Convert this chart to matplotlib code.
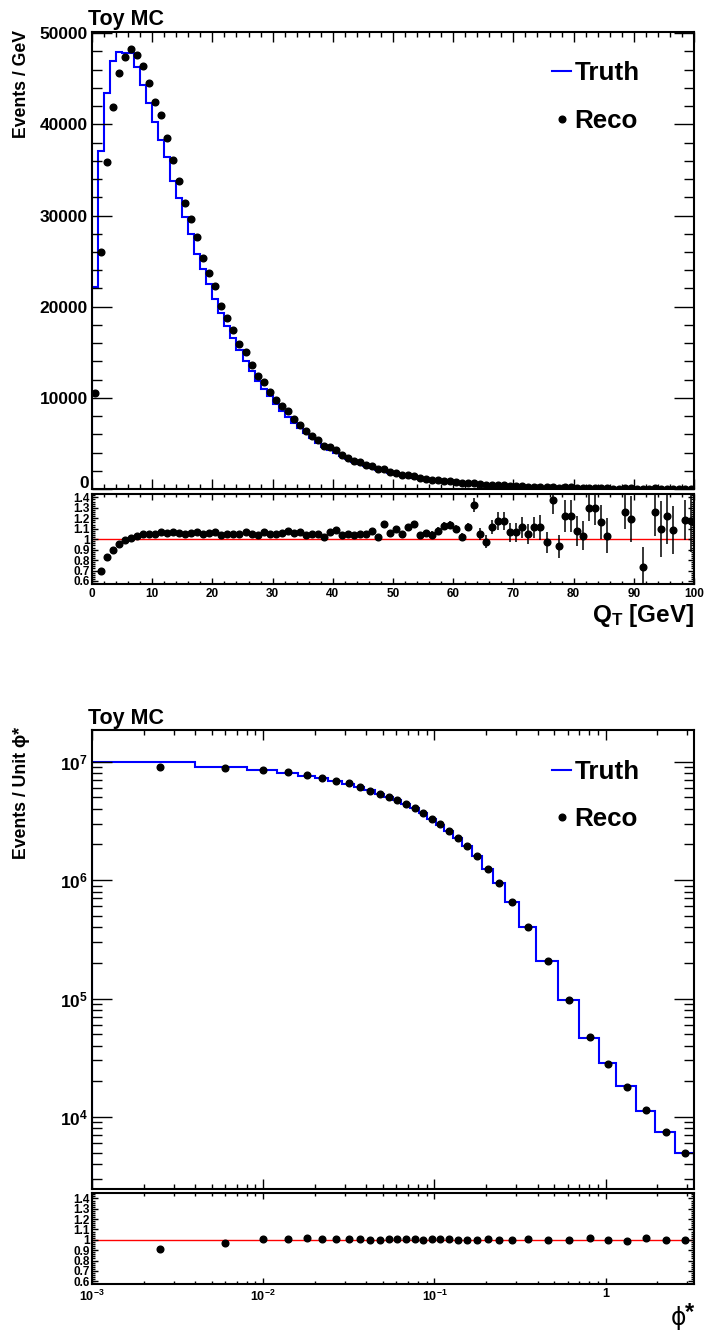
import numpy as np
import matplotlib
matplotlib.use('Agg')
import matplotlib.pyplot as plt
from matplotlib.ticker import MultipleLocator, FixedLocator, FixedFormatter, NullFormatter, FuncFormatter
from matplotlib.lines import Line2D

plt.rcParams['font.family'] = ['Liberation Sans', 'DejaVu Sans']
plt.rcParams['font.weight'] = 'bold'
plt.rcParams['mathtext.fontset'] = 'custom'
plt.rcParams['mathtext.rm'] = 'Liberation Sans:bold'
plt.rcParams['mathtext.bf'] = 'Liberation Sans:bold'
plt.rcParams['mathtext.it'] = 'Liberation Sans:bold'

# ---------------- data: Q_T ----------------
qt_edges = np.arange(0, 101, 1)
qt_truth = [22150, 37080, 43450, 46960, 47950, 47880, 47840, 46300, 44290, 42350,
            40270, 38250, 36420, 33790, 31960, 29840, 28010, 25800, 24100, 22450,
            20850, 19350, 17900, 16550, 15250, 14050, 12950, 11900, 11000, 10150,
            9350, 8600, 7900, 7250, 6650, 6100, 5550, 5100, 4650, 4250,
            3900, 3580, 3280, 3010, 2760, 2530, 2320, 2120, 1940, 1780,
            1630, 1490, 1360, 1250, 1140, 1045, 955, 875, 805, 740,
            680, 625, 575, 530, 488, 450, 415, 382, 352, 325,
            300, 277, 256, 236, 218, 201, 186, 172, 159, 147,
            136, 126, 116, 107, 99, 92, 85, 79, 73, 67,
            62, 57, 53, 49, 45, 42, 39, 36, 33, 31]
qt_ratio = [0.473, 0.70, 0.825, 0.892, 0.952, 0.99, 1.01, 1.029, 1.048, 1.051,
            1.054, 1.073, 1.057, 1.067, 1.057, 1.051, 1.057, 1.073, 1.051, 1.057,
            1.067, 1.038, 1.048, 1.051, 1.045, 1.067, 1.051, 1.038, 1.064, 1.048,
            1.048, 1.057, 1.080, 1.057, 1.064, 1.041, 1.054, 1.048, 1.019, 1.073,
            1.083, 1.035, 1.048, 1.035, 1.054, 1.054, 1.080, 1.016, 1.146, 1.057,
            1.096, 1.048, 1.115, 1.143, 1.038, 1.057, 1.038, 1.080, 1.127, 1.137,
            1.096, 1.022, 1.115, 1.325, 1.048, 0.975, 1.115, 1.169, 1.178, 1.067,
            1.067, 1.115, 1.051, 1.115, 1.115, 0.968, 1.376, 0.930, 1.223, 1.223,
            1.080, 1.032, 1.299, 1.299, 1.162, 1.032, 0.0, 0.0, 1.261, 1.194,
            0.0, 0.732, 0.0, 1.261, 1.096, 1.223, 1.089, 0.0, 1.185, 1.178]
qt_ratio_err = [0.003] * 30 + [0.006] * 10 + [0.01] * 6 + [0.02] * 5 + [0.025] * 5 + \
               [0.04] * 7 + [0.067, 0.057, 0.06, 0.064, 0.086, 0.086, 0.09, 0.09, 0.10, 0.095,
                             0.10, 0.12, 0.105, 0.14, 0.11, 0.15, 0.15, 0.146, 0.14, 0.127,
                             0.166, 0.16, 0.166, 0.0, 0.0, 0.166, 0.22, 0.0, 0.19, 0.0,
                             0.23, 0.27, 0.27, 0.23, 0.0, 0.19, 0.30]

# ---------------- data: phi* ----------------
phi_edges = [0.001, 0.004, 0.008, 0.012, 0.016, 0.020, 0.024, 0.029, 0.034, 0.039,
             0.045, 0.051, 0.057, 0.064, 0.072, 0.081, 0.091, 0.102, 0.114, 0.128,
             0.145, 0.165, 0.189, 0.219, 0.258, 0.312, 0.391, 0.524, 0.695, 0.918,
             1.153, 1.496, 1.947, 2.522, 3.277]
phi_truth = [9.95e6, 9.10e6, 8.50e6, 8.08e6, 7.55e6, 7.27e6, 6.89e6, 6.50e6, 6.11e6, 5.73e6,
             5.33e6, 5.03e6, 4.74e6, 4.37e6, 4.03e6, 3.67e6, 3.29e6, 2.95e6, 2.60e6, 2.28e6,
             1.93e6, 1.59e6, 1.24e6, 9.49e5, 6.54e5, 4.00e5, 2.06e5, 9.64e4, 4.66e4, 2.83e4,
             1.81e4, 1.12e4, 7.52e3, 4.98e3]
phi_ratio = [0.913, 0.968, 1.01, 1.01, 1.019, 1.01, 1.006, 1.01, 1.01, 0.994,
             1.003, 1.01, 1.01, 1.006, 1.006, 1.003, 1.006, 1.006, 1.006, 1.0,
             0.997, 1.0, 1.006, 0.994, 1.003, 1.01, 1.0, 1.0, 1.016, 0.997,
             0.984, 1.019, 0.994, 0.997]

legend_labels = ['Truth', 'Reco']

# ---------------- derived ----------------
qt_e = np.array(qt_edges, float)
qt_c = 0.5 * (qt_e[:-1] + qt_e[1:])
qt_t = np.array(qt_truth, float)
qt_r = np.array(qt_ratio, float)
qt_reco = qt_t * qt_r
ph_e = np.array(phi_edges, float)
ph_c = 0.5 * (ph_e[:-1] + ph_e[1:])
ph_t = np.array(phi_truth, float)
ph_r = np.array(phi_ratio, float)
ph_reco = ph_t * ph_r

W, H = 704, 1332
fig = plt.figure(figsize=(W / 100, H / 100), dpi=100)


def axes_px(l, t, r, b):
    return fig.add_axes([l / W, 1 - b / H, (r - l) / W, (b - t) / H])


BLUE = '#0000ff'
MS = 4.8
FW = 1.5


def frame(ax):
    for s in ax.spines.values():
        s.set_linewidth(FW)
        s.set_color('black')


def main_ticks(ax):
    ax.tick_params(axis='both', which='both', direction='in', top=True, right=True, width=1.0, color='black')
    ax.tick_params(axis='y', which='major', length=14.4, labelsize=12.5, pad=3)
    ax.tick_params(axis='y', which='minor', length=7.2)
    ax.tick_params(axis='x', which='major', length=7.2)
    ax.tick_params(axis='x', which='minor', length=3.6)


def ratio_ticks(ax, xlabsize=9):
    ax.tick_params(axis='both', which='both', direction='in', top=True, right=True, width=1.0, color='black')
    ax.tick_params(axis='y', which='major', length=4.3, labelsize=8.5, pad=1.5)
    ax.tick_params(axis='y', which='minor', length=2.0)
    ax.tick_params(axis='x', which='major', length=4.3, labelsize=xlabsize, pad=3)
    ax.tick_params(axis='x', which='minor', length=2.2)
    ax.yaxis.set_major_locator(MultipleLocator(0.1))
    ax.yaxis.set_minor_locator(MultipleLocator(0.02))
    ax.yaxis.set_major_formatter(FuncFormatter(lambda v, p: ('%g' % round(v, 2))))


def legend(ax, first_row_px, left_px):
    bb = ax.get_position()
    h = Line2D([0], [0], color=BLUE, lw=1.5)
    m = Line2D([0], [0], color='black', marker='o', ls='none', markersize=MS)
    ax.legend([h, m], legend_labels, loc='upper left',
              bbox_to_anchor=((left_px - 92) / 602, 1 - first_row_px / (bb.height * H)),
              frameon=False, fontsize=18.7, handlelength=0.75, handletextpad=0.12,
              labelspacing=0.9, borderpad=0, borderaxespad=0)


# ================= Q_T panel =================
ax1 = axes_px(92, 32.3, 694, 489)
ax1.stairs(qt_t, qt_e, baseline=0, color=BLUE, lw=1.5)
ax1.plot(qt_c, qt_reco, 'o', color='black', markersize=MS, zorder=3)
ax1.set_xlim(0, 100)
ax1.set_ylim(0, 50100)
ax1.xaxis.set_major_locator(MultipleLocator(10))
ax1.xaxis.set_minor_locator(MultipleLocator(2))
ax1.yaxis.set_major_locator(MultipleLocator(10000))
ax1.yaxis.set_minor_locator(MultipleLocator(2000))
# the "0" label is drawn separately, raised a little so it sits just above the ratio pad
ax1.yaxis.set_major_formatter(FuncFormatter(lambda v, p: '' if abs(v) < 1 else '%d' % v))
ax1.xaxis.set_major_formatter(NullFormatter())
main_ticks(ax1)
frame(ax1)
legend(ax1, 29, 552)
fig.text(88.5 / W, 1 - 487.5 / H, '0', fontsize=12.5, ha='right', va='baseline')

ax1r = axes_px(92, 494, 694, 584.3)
ax1r.axhline(1.0, color='red', lw=1.0, zorder=1)
ax1r.errorbar(qt_c, qt_r, yerr=qt_ratio_err, fmt='o', color='black', markersize=MS,
              elinewidth=1.1, capsize=0, zorder=3)
ax1r.set_xlim(0, 100)
ax1r.set_ylim(0.568, 1.432)
ax1r.xaxis.set_major_locator(MultipleLocator(10))
ax1r.xaxis.set_minor_locator(MultipleLocator(2))
ratio_ticks(ax1r, xlabsize=8.5)
frame(ax1r)

fig.text(88 / W, 1 - 25 / H, 'Toy MC', fontsize=15.5, ha='left', va='baseline')
fig.text(22 / W, 1 - 30 / H, 'Events / GeV', fontsize=12.7, rotation=90, ha='center', va='top')
fig.text(694 / W, 1 - 622 / H, r'Q$_{\mathrm{T}}$ [GeV]', fontsize=17.5, ha='right', va='baseline')

# ================= phi* panel =================
ax2 = axes_px(92, 730, 694, 1189)
ax2.set_xscale('log')
ax2.set_yscale('log')
ax2.stairs(ph_t, ph_e, baseline=1.0, color=BLUE, lw=1.5)
ax2.plot(ph_c, ph_reco, 'o', color='black', markersize=MS, zorder=3)
ax2.set_xlim(0.001, 3.277)
ax2.set_ylim(2466, 1.853e7)
ax2.yaxis.set_major_locator(FixedLocator([1e4, 1e5, 1e6, 1e7]))
ax2.yaxis.set_major_formatter(FixedFormatter([r'$\mathrm{10^{4}}$', r'$\mathrm{10^{5}}$',
                                              r'$\mathrm{10^{6}}$', r'$\mathrm{10^{7}}$']))
ax2.yaxis.set_minor_locator(matplotlib.ticker.LogLocator(base=10, subs=np.arange(2, 10), numticks=20))
ax2.yaxis.set_minor_formatter(NullFormatter())
ax2.xaxis.set_major_locator(FixedLocator([1e-3, 1e-2, 1e-1, 1]))
ax2.xaxis.set_minor_locator(matplotlib.ticker.LogLocator(base=10, subs=np.arange(2, 10), numticks=20))
ax2.xaxis.set_major_formatter(NullFormatter())
ax2.xaxis.set_minor_formatter(NullFormatter())
main_ticks(ax2)
frame(ax2)
legend(ax2, 30, 552)

ax2r = axes_px(92, 1193.3, 694, 1284.3)
ax2r.set_xscale('log')
ax2r.axhline(1.0, color='red', lw=1.0, zorder=1)
ax2r.plot(ph_c, ph_r, 'o', color='black', markersize=MS, zorder=3)
ax2r.set_xlim(0.001, 3.277)
ax2r.set_ylim(0.57, 1.45)
ax2r.xaxis.set_major_locator(FixedLocator([1e-3, 1e-2, 1e-1, 1]))
ax2r.xaxis.set_major_formatter(FixedFormatter([r'$\mathrm{10^{-3}}$', r'$\mathrm{10^{-2}}$',
                                               r'$\mathrm{10^{-1}}$', '1']))
ax2r.xaxis.set_minor_locator(matplotlib.ticker.LogLocator(base=10, subs=np.arange(2, 10), numticks=20))
ax2r.xaxis.set_minor_formatter(NullFormatter())
ratio_ticks(ax2r, xlabsize=9)
frame(ax2r)

fig.text(88 / W, 1 - 724 / H, 'Toy MC', fontsize=15.5, ha='left', va='baseline')
fig.text(22 / W, 1 - 727 / H, 'Events / Unit ϕ*', fontsize=12.7, rotation=90, ha='center', va='top')
fig.text(671 / W, 1 - 1318 / H, 'ϕ', fontsize=17, fontweight='normal', family='DejaVu Sans',
         ha='left', va='center')
fig.text(685 / W, 1 - 1313 / H, '*', fontsize=17, ha='left', va='center')

fig.savefig('out.png', dpi=100)
